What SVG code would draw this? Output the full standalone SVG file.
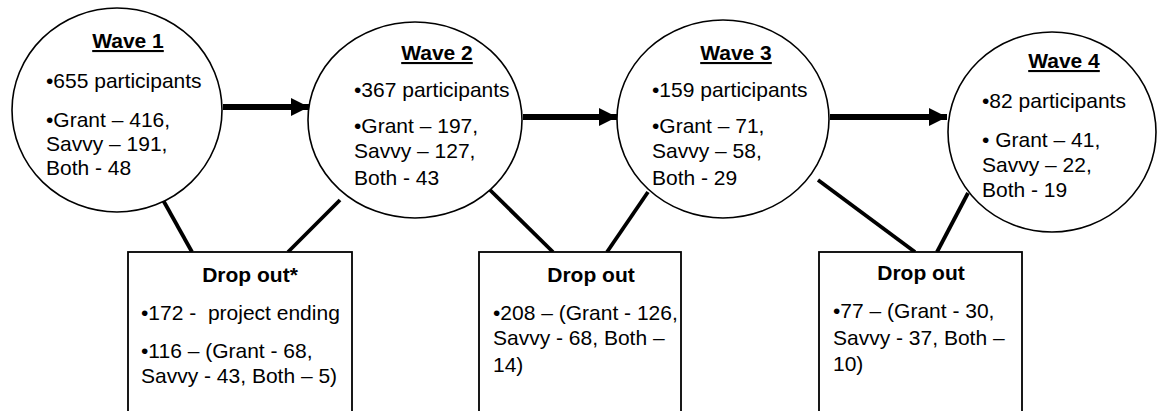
<svg xmlns="http://www.w3.org/2000/svg" width="1157" height="411" viewBox="0 0 1157 411">
  <defs>
    <marker id="arrowHead" markerUnits="userSpaceOnUse" markerWidth="20" markerHeight="18" refX="18" refY="9" orient="auto">
      <path d="M0,0 L18,9 L0,18 Z" fill="#000"/>
    </marker>
  </defs>
  <style>
    .wave { fill: #fff; stroke: #000; stroke-width: 1.6; }
    .box { fill: #fff; stroke: #000; stroke-width: 1.8; }
    .flow { stroke: #000; stroke-width: 6; fill: none; }
    .link { stroke: #000; stroke-width: 3.8; fill: none; }
    text { font-family: "Liberation Sans", Arial, Helvetica, sans-serif; font-size: 21px; fill: #000; }
    .title { font-weight: bold; text-anchor: middle; }
    .under { text-decoration: underline; }
  </style>
  <rect width="1157" height="411" fill="#fff"/>

  <!-- links between waves and drop-out boxes, then the wave-to-wave arrows -->
  <g id="connectors">
    <line class="link" x1="163" y1="200" x2="192" y2="252"/>
    <line class="link" x1="340" y1="200" x2="288" y2="252"/>
    <line class="link" x1="490" y1="190" x2="553" y2="252"/>
    <line class="link" x1="648" y1="192" x2="607" y2="252"/>
    <line class="link" x1="818" y1="180" x2="915" y2="252"/>
    <line class="link" x1="968" y1="193" x2="937" y2="252"/>
    <line class="flow" x1="223" y1="107" x2="309" y2="107" marker-end="url(#arrowHead)"/>
    <line class="flow" x1="523" y1="117" x2="617" y2="117" marker-end="url(#arrowHead)"/>
    <line class="flow" x1="830" y1="117" x2="947" y2="117" marker-end="url(#arrowHead)"/>
  </g>

  <g id="wave1">
    <ellipse class="wave" cx="117" cy="110" rx="105" ry="102"/>
    <text class="title under" x="128" y="48">Wave 1</text>
    <text x="46" y="88">•655 participants</text>
    <text x="46" y="127">•Grant – 416,</text>
    <text x="46" y="151">Savvy – 191,</text>
    <text x="46" y="175">Both - 48</text>
  </g>

  <g id="wave2">
    <ellipse class="wave" cx="415" cy="120" rx="107" ry="98"/>
    <text class="title under" x="437" y="60">Wave 2</text>
    <text x="354" y="97">•367 participants</text>
    <text x="354" y="133">•Grant – 197,</text>
    <text x="354" y="158">Savvy – 127,</text>
    <text x="354" y="185">Both - 43</text>
  </g>

  <g id="wave3">
    <ellipse class="wave" cx="723" cy="119" rx="106" ry="99"/>
    <text class="title under" x="736" y="60">Wave 3</text>
    <text x="652" y="97">•159 participants</text>
    <text x="652" y="133">•Grant – 71,</text>
    <text x="652" y="158">Savvy – 58,</text>
    <text x="652" y="185">Both - 29</text>
  </g>

  <g id="wave4">
    <ellipse class="wave" cx="1052" cy="132" rx="104" ry="100"/>
    <text class="title under" x="1064" y="68">Wave 4</text>
    <text x="982" y="108">•82 participants</text>
    <text x="982" y="147">• Grant – 41,</text>
    <text x="982" y="172">Savvy – 22,</text>
    <text x="982" y="197">Both - 19</text>
  </g>

  <g id="dropout1">
    <rect class="box" x="128" y="252" width="224" height="170"/>
    <text class="title" x="250" y="282">Drop out*</text>
    <text x="141" y="320" xml:space="preserve">•172 -  project ending</text>
    <text x="141" y="358">•116 – (Grant - 68,</text>
    <text x="141" y="383">Savvy - 43, Both – 5)</text>
  </g>

  <g id="dropout2">
    <rect class="box" x="479" y="252" width="202" height="170"/>
    <text class="title" x="591" y="282">Drop out</text>
    <text x="493" y="320">•208 – (Grant - 126,</text>
    <text x="493" y="345">Savvy - 68, Both –</text>
    <text x="493" y="372">14)</text>
  </g>

  <g id="dropout3">
    <rect class="box" x="819" y="252" width="203" height="170"/>
    <text class="title" x="921" y="280">Drop out</text>
    <text x="833" y="318">•77 – (Grant - 30,</text>
    <text x="833" y="345">Savvy - 37, Both –</text>
    <text x="833" y="371">10)</text>
  </g>
</svg>
